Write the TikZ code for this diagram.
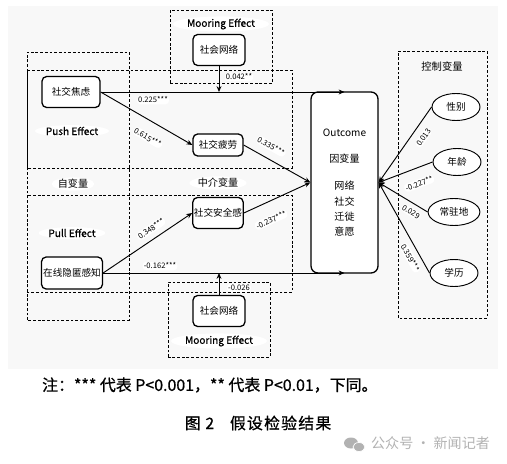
\documentclass[tikz,border=0pt]{standalone}
\usepackage{fontspec}
\setmainfont{Noto Sans CJK SC}
\newfontfamily\semibold{Noto Sans CJK SC}[FakeBold=0.8]
\usetikzlibrary{arrows.meta,shapes.geometric}
\definecolor{sketchBack}{RGB}{248,248,248}
\definecolor{sketchMark}{RGB}{178,178,178}

\begin{document}
\begin{tikzpicture}[
  x=0.03cm,
  y=0.03cm,
  factor/.style={
    draw,
    line width=1.1pt,
    rounded corners=4pt,
    fill=white,
    inner sep=1pt,
    minimum height=0.93cm,
    font=\fontsize{8.2}{10}\selectfont
  },
  zone/.style={draw,line width=0.8pt,dash pattern=on 2.4pt off 1.6pt},
  tag/.style={
    ellipse,
    fill=white,
    inner sep=0pt,
    font=\fontsize{8.6}{10}\selectfont
  },
  control/.style={
    draw,
    ellipse,
    line width=0.8pt,
    fill=white,
    minimum width=1.44cm,
    minimum height=0.81cm,
    font=\fontsize{8.2}{10}\selectfont
  },
  coef/.style={
    fill=white,
    rounded corners=3pt,
    inner sep=1pt,
    font=\fontsize{6.5}{7}\selectfont
  },
  effect/.style={-{Stealth[length=5pt,width=4.2pt]},line width=0.8pt}
]
  \useasboundingbox (0,0) rectangle (507,463);
  \fill[sketchBack] (8,94) rectangle (498,457);

  % dashed groups
  \draw[zone] (170,380) rectangle (272,453);
  \draw[zone] (27,143) rectangle (129,411);
  \draw[zone] (27,295) rectangle (292,393);
  \draw[zone] (27,171) rectangle (292,268);
  \draw[zone] (168,106) rectangle (270,181);
  \draw[zone] (398,145) rectangle (487,412);

  \node[tag,font=\fontsize{8.6}{10}\semibold] (mooringTop) at (221,439) {Mooring Effect};
  \node[factor,minimum width=1.56cm] (netTop) at (219,413) {社会网络};
  \node[factor,minimum width=1.74cm] (anxiety) at (71,371) {社交焦虑};
  \node[tag,font=\fontsize{8.6}{10}\semibold] (push) at (72,332) {Push Effect};
  \node[factor,minimum width=1.5cm,minimum height=0.66cm] (fatigue) at (218,318) {社交疲劳};
  \node[tag] (independent) at (73,279) {自变量};
  \node[tag] (mediator) at (218,280) {中介变量};
  \node[factor,minimum width=1.5cm] (security) at (218,250) {社交安全感};
  \node[tag,font=\fontsize{8.6}{10}\semibold] (pull) at (72,230) {Pull Effect};
  \node[factor,minimum width=1.83cm,minimum height=0.96cm] (privacy) at (72,190) {在线隐匿感知};
  \node[factor,minimum width=1.56cm] (netBottom) at (219,152) {社会网络};
  \node[tag,font=\fontsize{8.6}{10}\semibold] (mooringBottom) at (219,122) {Mooring Effect};

  \node[factor,minimum width=2.01cm,minimum height=5.43cm,rounded corners=6pt,
    align=center,font=\fontsize{8.6}{13}\selectfont] (outcome) at (344.5,280.5)
    {Outcome\\[10pt]因变量\\[10pt]网络\\社交\\迁徙\\意愿};

  \node[font=\fontsize{8.8}{10}\selectfont] (controls) at (442,396) {控制变量};
  \node[control] (gender) at (456,356) {性别};
  \node[control] (age) at (457,301) {年龄};
  \node[control] (residence) at (454,251) {常驻地};
  \node[control] (education) at (454,190) {学历};

  % paths
  \coordinate (netTopHit) at (netTop.south |- anxiety.east);
  \coordinate (netBottomHit) at (netBottom.north |- privacy.east);
  \draw[effect] (anxiety.east) -- (anxiety.east -| outcome.north);
  \draw[effect] (privacy.east) -- (privacy.east -| outcome.south);
  \draw[effect] (netTop.south) -- (netTopHit);
  \draw[effect] (netBottom.north) -- (netBottomHit);
  \draw[effect] (anxiety.east) -- node[coef,sloped,below=9.5pt,pos=0.6] (coefFatigue) {0.615***} (fatigue.west);
  \draw[effect] (fatigue.east) -- node[coef,sloped,above=6.5pt,pos=0.32] (coefFatigueOut) {0.335***} (outcome.west);
  \draw[effect] (privacy.east) -- node[coef,sloped,above=4.5pt,pos=0.6] (coefSecurity) {0.348***} (security.west);
  \draw[effect] (security.east) -- node[coef,sloped,below=11pt,pos=0.3] (coefSecurityOut) {-0.237***} (outcome.west);

  \draw[effect] (gender.west) -- node[coef,sloped,below=5.5pt,pos=0.32] (coefGender) {0.013} (outcome.east);
  \draw[effect] (age.west) -- node[coef,sloped,below=9pt,pos=0.35] (coefAge) {-0.227**} (outcome.east);
  \draw[effect] (residence.west) -- node[coef,sloped,below=3.5pt,pos=0.25] (coefResidence) {0.029} (outcome.east);
  \draw[effect] (education.west) -- node[coef,sloped,below=4pt,pos=0.22] (coefEducation) {0.359***} (outcome.east);

  \node[coef] (coefNetTop) at (239,386) {0.042**};
  \node[coef] (coefAnxiety) at (153,363) {0.225***};
  \node[coef] (coefPrivacy) at (160,197) {-0.162***};
  \node[coef] (coefNetBottom) at (239,175) {-0.026};

  % caption
  \node[anchor=west,font=\fontsize{13.6}{15}\semibold] (note) at (38,78)
    {注：*** 代表 P<0.001，** 代表 P<0.01，下同。};
  \node[font=\fontsize{13.5}{15}\semibold\addfontfeatures{LetterSpace=8}] (caption) at (258,40)
    {图 2\quad 假设检验结果};
  \fill[sketchMark] (351,20) ellipse (7 and 5.5);
  \fill[sketchMark,draw=white,line width=0.6pt] (359,16) ellipse (6 and 4.5);
  \node[anchor=west,text=sketchMark,font=\fontsize{12}{14}\selectfont] (mark) at (367,20) {公众号 · 新闻记者};
\end{tikzpicture}
\end{document}
